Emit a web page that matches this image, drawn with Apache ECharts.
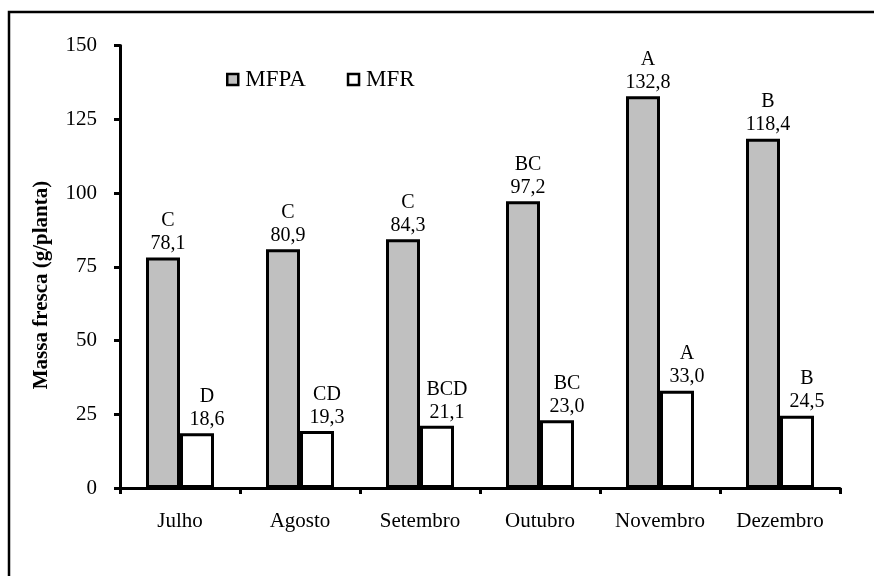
<!DOCTYPE html>
<html>
<head>
<meta charset="utf-8">
<script src="https://cdn.jsdelivr.net/npm/echarts@6/dist/echarts.min.js"></script>
<style>html,body{margin:0;padding:0;background:#fff}#c{width:874px;height:576px}</style>
</head>
<body>
<div id="c"></div>
<script>
var months = ['Julho', 'Agosto', 'Setembro', 'Outubro', 'Novembro', 'Dezembro'];
var mfpa = [78.1, 80.9, 84.3, 97.2, 132.8, 118.4];
var mfr = [18.6, 19.3, 21.1, 23.0, 33.0, 24.5];
var mfpaLetters = ['C', 'C', 'C', 'BC', 'A', 'B'];
var mfrLetters = ['D', 'CD', 'BCD', 'BC', 'A', 'B'];
var yTicks = [0, 25, 50, 75, 100, 125, 150];

var FONT = "'Liberation Serif', 'Times New Roman', serif";
function fmt(v) { return v.toFixed(1).replace('.', ','); }
function labelFor(letters) {
  return {
    show: true, position: 'top', distance: 2,
    formatter: function (p) { return '{l|' + letters[p.dataIndex] + '}\n{v|' + fmt(p.value) + '}'; },
    rich: {
      l: { fontFamily: FONT, fontSize: 20, lineHeight: 23, color: '#000' },
      v: { fontFamily: FONT, fontSize: 20, lineHeight: 23, color: '#000' }
    }
  };
}

var chart = echarts.init(document.getElementById('c'), null, { renderer: 'canvas' });
chart.setOption({
  animation: false,
  backgroundColor: '#fff',
  textStyle: { fontFamily: FONT },
  grid: { left: 120, right: 34, top: 45.5, bottom: 88 },
  legend: {
    left: 226, top: 68, padding: 0,
    icon: 'rect', itemWidth: 11, itemHeight: 11, itemGap: 41,
    itemStyle: { borderColor: '#000', borderWidth: 2.5 },
    textStyle: { fontFamily: FONT, fontSize: 23, color: '#000', padding: [7, 0, 0, 2] },
    data: ['MFPA', 'MFR']
  },
  graphic: [
    { type: 'rect', shape: { x: 9, y: 12, width: 900, height: 600 },
      style: { fill: 'none', stroke: '#000', lineWidth: 2.5 }, silent: true },
    { type: 'text', x: 41.5, y: 285, rotation: Math.PI / 2,
      style: { text: 'Massa fresca (g/planta)', fontFamily: FONT, fontSize: 21, fontWeight: 'bold',
               fill: '#000', align: 'center', verticalAlign: 'middle' } }
  ],
  xAxis: {
    type: 'category', data: months, boundaryGap: true,
    axisLine: { lineStyle: { color: '#000', width: 3 } },
    axisTick: { show: true, length: 6, lineStyle: { color: '#000', width: 3 } },
    axisLabel: { fontFamily: FONT, fontSize: 21, color: '#000', margin: 23 },
    splitLine: { show: false }
  },
  yAxis: {
    type: 'value', min: yTicks[0], max: yTicks[yTicks.length - 1], interval: 25,
    axisLine: { show: true, lineStyle: { color: '#000', width: 3 } },
    axisTick: { show: true, length: 6, lineStyle: { color: '#000', width: 3 } },
    axisLabel: { fontFamily: FONT, fontSize: 21, color: '#000', margin: 23 },
    splitLine: { show: false }
  },
  series: [
    { name: 'MFPA', type: 'bar', data: mfpa, barWidth: 34, barGap: '0%',
      itemStyle: { color: '#c0c0c0', borderColor: '#000', borderWidth: 3 },
      label: Object.assign(labelFor(mfpaLetters), { offset: [5, 0] }) },
    { name: 'MFR', type: 'bar', data: mfr, barWidth: 34, barGap: '0%',
      itemStyle: { color: '#ffffff', borderColor: '#000', borderWidth: 3 },
      label: Object.assign(labelFor(mfrLetters), { offset: [10, 0] }) }
  ]
});
</script>
</body>
</html>
